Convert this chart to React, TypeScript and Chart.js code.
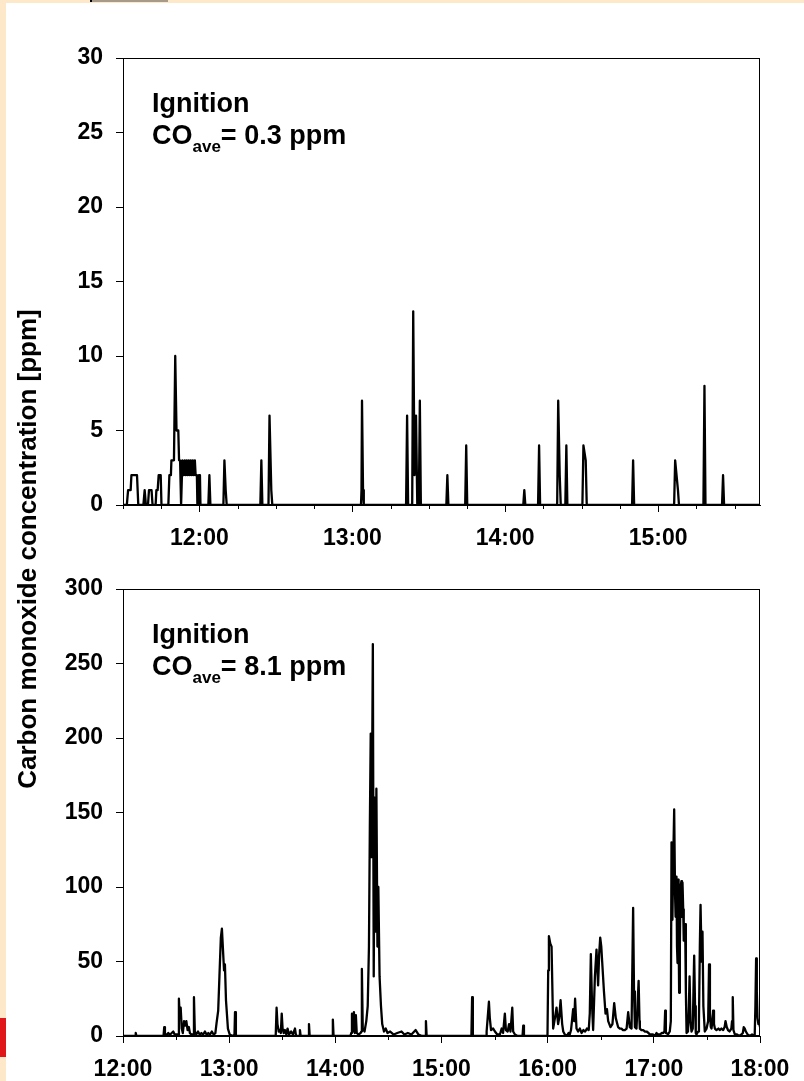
import React, { useEffect, useRef } from 'react';
import { Chart, registerables } from 'chart.js';

Chart.register(...registerables);

const FAMILY = "'Liberation Sans', Arial, Helvetica, sans-serif";
const CREAM = '#fde9c9';

// ---------- Top panel (times in minutes after midnight, CO in ppm) ----------
const topTimes = [
  690, 691.5, 692, 693, 693.3, 695.5, 696,
  698, 698.5, 699,
  699.8, 700.2, 701.2, 701.6,
  702.8, 703.1, 703.6, 704, 704.8, 705.1,
  707.8, 708.2, 708.8, 709, 710, 710.5, 711, 711.7, 712, 712.4, 712.8,
  713, 713.3, 713.8, 714.2, 714.6, 715, 715.4, 715.8, 716.2, 716.6, 717, 717.4, 717.8, 718.2, 718.5, 719, 719.2,
  719.6, 719.8, 720.2, 720.4,
  723.5, 723.9, 724.3,
  729.4, 729.8, 730.3, 730.7,
  743.9, 744.3, 744.7,
  747.1, 747.5, 748.2, 748.6,
  783.4, 783.6, 783.8, 784.2, 784.5,
  801.1, 801.5, 801.9,
  803.5, 803.9, 804.4, 805, 805.5,
  806.1, 806.5, 806.9,
  816.9, 817.3, 817.7,
  824.3, 824.7, 825.1,
  847.1, 847.5, 847.9,
  852.9, 853.3, 853.7,
  860.4, 860.8, 861.4, 861.8,
  863.6, 864, 864.4,
  870.3, 870.7, 871.6, 872,
  889.8, 890.2, 890.6,
  906.3, 906.7, 907.8, 908.2,
  917.8, 918.2, 918.6,
  925.1, 925.5, 925.9,
  940,
];
const topValues = [
  0, 0, 1, 1, 2, 2, 0,
  0, 1, 0,
  0, 1, 1, 0,
  0, 1, 1, 2, 2, 0,
  0, 2, 2, 3, 3, 10, 5, 5, 3, 3, 0,
  0, 3, 2, 3, 2, 3, 2, 3, 2, 3, 2, 3, 2, 3, 2, 2, 0,
  0, 2, 2, 0,
  0, 2, 0,
  0, 3, 1, 0,
  0, 3, 0,
  0, 6, 1, 0,
  0, 1, 7, 1, 0,
  0, 6, 0,
  0, 13, 2, 6, 0,
  0, 7, 0,
  0, 2, 0,
  0, 4, 0,
  0, 1, 0,
  0, 4, 0,
  0, 7, 2, 0,
  0, 4, 0,
  0, 4, 3, 0,
  0, 3, 0,
  0, 3, 1, 0,
  0, 8, 0,
  0, 2, 0,
  0,
];
const topMajorTicks = [720, 780, 840, 900];
const topMinorTicks = [690, 705, 735, 750, 765, 795, 810, 825, 855, 870, 885, 915, 930];
const topAverage = '0.3';

// ---------- Bottom panel ----------
const bottomTimes = [
  720, 726.8, 727.2, 727.6, 742.9, 743.3, 743.7, 745, 745.6, 746.5, 747.5, 748.4, 749.2,
  751.2, 751.6, 752.1, 752.6, 753.2, 753.8, 754.5, 755.1, 755.8, 756.5, 757.2, 757.8, 758.8, 759.7,
  760.1, 760.6, 761.4, 762.4, 763.3, 764.3, 765.3, 766.3, 767.2, 768.2, 769.2, 770.2, 771.2, 772.2,
  772.9, 773.8, 774.5, 775.3, 775.9, 776.5, 777.1, 777.6, 778.2, 779.3, 780.3, 782, 783, 783.3, 783.8,
  806.3, 806.8, 807.3, 808, 808.6, 809.2, 809.7, 810.2, 810.8, 811.5, 812.3, 813, 813.8, 815, 816,
  817.2, 817.8, 819.6, 820, 820.4, 824.7, 825.1, 825.5, 838.2, 838.6, 839,
  848.5, 849, 849.4, 849.9, 850.5, 851, 851.6, 852.1, 853, 854.3, 854.7, 855, 855.5, 856.5, 857.5, 858.3,
  859, 859.5, 860, 860.5, 861.2, 861.7, 862.2, 862.7, 863.2, 863.8, 864.3, 865, 865.8, 866.5, 867.5,
  868.5, 869.5, 871, 873, 875, 877.4, 879, 881, 883, 885.4, 887, 889, 890.8, 891.2, 891.6,
  916.9, 917.3, 917.7, 925.2, 925.5, 926.8, 927.3, 928, 929.2, 930.2, 931.5, 933, 934, 934.8,
  935.8, 936.4, 937.4, 938.2, 939, 940, 940.5, 941.5, 943, 945.8, 946.2, 946.6,
  959.9, 960.3, 960.7, 961.5, 962.2, 963.1, 964.1, 965, 965.9, 966.5, 967.3, 968.2, 968.8, 969.7,
  970.8, 971.8, 972.5, 973.2, 973.9, 974.4, 975, 975.5, 976.3, 977.2, 978.2, 979.2, 980.2, 981.2,
  982.2, 983.2, 983.8, 984.4, 985.1, 985.7, 986.7, 987.6, 988.5, 989.1, 989.7, 990.3, 990.8, 991.8,
  992.7, 993.5, 994.2, 995.5, 996.6, 997.6, 998.5, 999.8, 1000.8, 1001.7, 1002.6, 1003.6, 1004.6,
  1005.5, 1006.4, 1007.4, 1008.3, 1008.8, 1009.3, 1010.2, 1011.4, 1011.9, 1012.1, 1013, 1014, 1015,
  1015.9, 1017, 1017.7, 1019.6, 1020.5, 1021.5, 1022.5, 1023.4, 1024.4, 1025.3, 1026, 1026.4, 1026.8,
  1027.2, 1028, 1029, 1029.6, 1030, 1030.5, 1031, 1031.5, 1032, 1032.3, 1032.8, 1033.1, 1033.4,
  1033.7, 1034, 1034.3, 1034.7, 1035.1, 1035.6, 1035.9, 1036.2, 1036.6, 1036.9, 1037.3, 1037.7,
  1038.1, 1038.5, 1039.3, 1039.8, 1040.2, 1040.7, 1041.3, 1042, 1042.4, 1042.8, 1043.3, 1043.7,
  1044.1, 1045, 1045.5, 1046, 1046.4, 1047, 1047.5, 1048, 1048.8, 1049.8, 1050.7, 1051.2, 1051.7,
  1052.2, 1052.6, 1053.1, 1053.5, 1054, 1054.5, 1055.4, 1056.5, 1057.4, 1058.2, 1059.2, 1060,
  1060.5, 1061.2, 1061.9, 1062.8, 1063.8, 1064.2, 1064.6, 1065, 1065.8, 1067, 1068.2, 1069.5,
  1070.3, 1070.8, 1071.4, 1072, 1073, 1074.2, 1075.5, 1077, 1077.4, 1077.8, 1078.2, 1078.6,
  1079.1, 1079.5, 1080,
];
const bottomValues = [
  0, 0, 2, 0, 0, 6, 1, 1, 2, 1, 2, 3, 1,
  1, 25, 12, 19, 5, 2, 10, 7, 10, 4, 6, 2, 1, 1,
  26, 3, 1, 3, 1, 2, 1, 3, 1, 2, 1, 3, 1, 2,
  9, 17, 40, 66, 72, 58, 44, 48, 24, 5, 1, 0, 1, 16, 0,
  0, 19, 8, 3, 4, 2, 15, 5, 2, 4, 1, 5, 1, 3, 1,
  5, 0, 0, 4, 0, 0, 8, 0, 0, 11, 0,
  0, 2, 15, 3, 16, 2, 14, 2, 1, 2, 3, 45, 5, 3, 10, 20,
  60, 140, 203, 120, 263, 40, 160, 70, 166, 60, 100, 40, 20, 8, 3,
  5, 2, 3, 1, 2, 3, 1, 2, 1, 4, 1, 0, 0, 10, 0,
  0, 26, 0, 0, 3, 23, 12, 4, 5, 3, 1, 1, 5, 2,
  15, 4, 3, 8, 3, 19, 3, 1, 0, 0, 7, 0,
  0, 44, 67, 62, 60, 5, 12, 19, 8, 12, 24, 8, 3, 1,
  0, 2, 1, 4, 12, 18, 10, 25, 5, 3, 5, 2, 4, 3,
  5, 4, 15, 55, 20, 4, 40, 58, 34, 55, 66, 60, 50, 30,
  15, 18, 10, 6, 8, 22, 12, 6, 5, 5, 4, 4, 5,
  16, 6, 5, 86, 30, 6, 5, 37, 10, 5, 4, 4, 3,
  3, 2, 1, 1, 0, 2, 1, 1, 2, 2, 3, 17, 2,
  2, 1, 3, 10, 130, 78, 120, 152, 95, 80, 107, 60, 49,
  105, 70, 29, 60, 100, 104, 80, 103, 85, 64, 70, 75,
  30, 2, 3, 20, 40, 10, 3, 5, 30, 54, 20, 2,
  1, 3, 10, 60, 88, 50, 70, 20, 3, 5, 10, 48, 15,
  6, 5, 10, 17, 8, 5, 4, 5, 4, 5, 4, 6,
  10, 6, 4, 3, 5, 10, 26, 4, 1, 1, 0, 1,
  2, 6, 5, 3, 1, 0, 1, 0, 20, 52, 30, 12,
  8, 10, 6,
];
const bottomMajorTicks = [720, 780, 840, 900, 960, 1020, 1080];
const bottomMinorTicks = [750, 810, 870, 930, 990, 1050];
const bottomAverage = '8.1';

const annotationTitle = 'Ignition';
const yAxisTitle = 'Carbon monoxide concentration [ppm]';

function fmtTime(v: number) {
  const h = Math.floor(v / 60);
  const m = Math.round(v - h * 60);
  return `${h}:${String(m).padStart(2, '0')}`;
}

type PanelSpec = {
  times: number[];
  values: number[];
  xMin: number;
  xMax: number;
  yMax: number;
  yStep: number;
  major: number[];
  minor: number[];
  average: string;
  canvasTop: number;
  canvasHeight: number;
  padTop: number;
  axisHeight: number;
};

const TICK_FONT = { family: FAMILY, size: 23, weight: 'bold' as const };

function buildConfig(p: PanelSpec): any {
  const data = p.times.map((t, i) => ({ x: t, y: p.values[i] }));
  const framePlugin = {
    id: 'frame',
    afterDraw(chart: any) {
      const { ctx, chartArea } = chart;
      ctx.save();
      ctx.strokeStyle = '#000';
      ctx.lineWidth = 1;
      const l = Math.round(chartArea.left) + 0.5;
      const t = Math.round(chartArea.top) + 0.5;
      const r = Math.round(chartArea.right) - 0.5;
      const b = Math.round(chartArea.bottom) - 0.5;
      ctx.strokeRect(l, t, r - l, b - t);
      // minor ticks
      const xs = chart.scales.x;
      ctx.beginPath();
      p.minor.forEach((v) => {
        const px = Math.round(xs.getPixelForValue(v)) + 0.5;
        ctx.moveTo(px, chartArea.bottom);
        ctx.lineTo(px, chartArea.bottom + 4);
      });
      ctx.stroke();
      // annotation
      ctx.fillStyle = '#000';
      ctx.textBaseline = 'alphabetic';
      ctx.textAlign = 'left';
      const x0 = chartArea.left + 29;
      ctx.font = `bold 27px ${FAMILY}`;
      ctx.fillText(annotationTitle, x0, chartArea.top + 54);
      let x = x0;
      const y = chartArea.top + 86;
      ctx.fillText('CO', x, y);
      x += ctx.measureText('CO').width;
      ctx.font = `bold 17px ${FAMILY}`;
      ctx.fillText('ave', x, y + 8);
      x += ctx.measureText('ave').width;
      ctx.font = `bold 27px ${FAMILY}`;
      ctx.fillText(`= ${p.average} ppm`, x, y);
      ctx.restore();
    },
  };
  return {
    type: 'line',
    data: {
      datasets: [
        {
          data,
          borderColor: '#000',
          borderWidth: 2.3,
          pointRadius: 0,
          tension: 0,
          fill: false,
          borderJoinStyle: 'round',
        },
      ],
    },
    options: {
      animation: false,
      responsive: false,
      maintainAspectRatio: false,
      devicePixelRatio: 1,
      layout: { padding: { left: 0, right: 44, top: p.padTop, bottom: 0 } },
      plugins: { legend: { display: false }, tooltip: { enabled: false } },
      scales: {
        x: {
          type: 'linear',
          min: p.xMin,
          max: p.xMax,
          afterBuildTicks: (s: any) => {
            s.ticks = p.major.map((v) => ({ value: v }));
          },
          afterFit: (s: any) => {
            s.height = p.axisHeight;
          },
          ticks: {
            callback: (v: any) => fmtTime(Number(v)),
            font: TICK_FONT,
            color: '#000',
            padding: 13,
            maxRotation: 0,
            autoSkip: false,
          },
          grid: { drawOnChartArea: false, drawTicks: true, tickLength: 7, color: '#000', tickColor: '#000', lineWidth: 1 },
          border: { display: true, color: '#000', width: 1 },
        },
        y: {
          type: 'linear',
          min: 0,
          max: p.yMax,
          afterFit: (s: any) => {
            s.width = 123;
          },
          ticks: { stepSize: p.yStep, font: TICK_FONT, color: '#000', padding: 13 },
          grid: { drawOnChartArea: false, drawTicks: true, tickLength: 7, color: '#000', tickColor: '#000', lineWidth: 1 },
          border: { display: true, color: '#000', width: 1 },
        },
      },
    },
    plugins: [framePlugin],
  };
}

function Panel({ spec }: { spec: PanelSpec }) {
  const ref = useRef<HTMLCanvasElement | null>(null);
  useEffect(() => {
    if (!ref.current) return;
    const chart = new Chart(ref.current, buildConfig(spec));
    return () => chart.destroy();
  }, [spec]);
  return (
    <canvas
      ref={ref}
      width={804}
      height={spec.canvasHeight}
      style={{ position: 'absolute', left: 0, top: spec.canvasTop, width: 804, height: spec.canvasHeight }}
    />
  );
}

const topSpec: PanelSpec = {
  times: topTimes,
  values: topValues,
  xMin: 690,
  xMax: 940,
  yMax: 30,
  yStep: 5,
  major: topMajorTicks,
  minor: topMinorTicks,
  average: topAverage,
  canvasTop: 0,
  canvasHeight: 560,
  padTop: 58,
  axisHeight: 55,
};

const bottomSpec: PanelSpec = {
  times: bottomTimes,
  values: bottomValues,
  xMin: 720,
  xMax: 1080,
  yMax: 300,
  yStep: 50,
  major: bottomMajorTicks,
  minor: bottomMinorTicks,
  average: bottomAverage,
  canvasTop: 560,
  canvasHeight: 521,
  padTop: 29,
  axisHeight: 45,
};

export default function App() {
  return (
    <div style={{ position: 'absolute', left: 0, top: 0, width: 804, height: 1081, background: '#fff', overflow: 'hidden' }}>
      <div style={{ position: 'absolute', left: 0, top: 0, width: 804, height: 3, background: CREAM }} />
      <div style={{ position: 'absolute', left: 0, top: 0, width: 6, height: 1081, background: CREAM }} />
      <div style={{ position: 'absolute', left: 90, top: 0, width: 2, height: 2, background: '#000' }} />
      <div style={{ position: 'absolute', left: 92, top: 0, width: 76, height: 2, background: '#a89a88' }} />
      <div style={{ position: 'absolute', left: 0, top: 1018, width: 6, height: 39, background: '#e0161b' }} />
      <Panel spec={topSpec} />
      <Panel spec={bottomSpec} />
      <div
        style={{
          position: 'absolute',
          left: 27 - 300,
          top: 549 - 15,
          width: 600,
          height: 30,
          lineHeight: '30px',
          textAlign: 'center',
          transform: 'rotate(-90deg)',
          font: `bold 26px ${FAMILY}`,
          color: '#000',
          whiteSpace: 'nowrap',
        }}
      >
        {yAxisTitle}
      </div>
    </div>
  );
}
